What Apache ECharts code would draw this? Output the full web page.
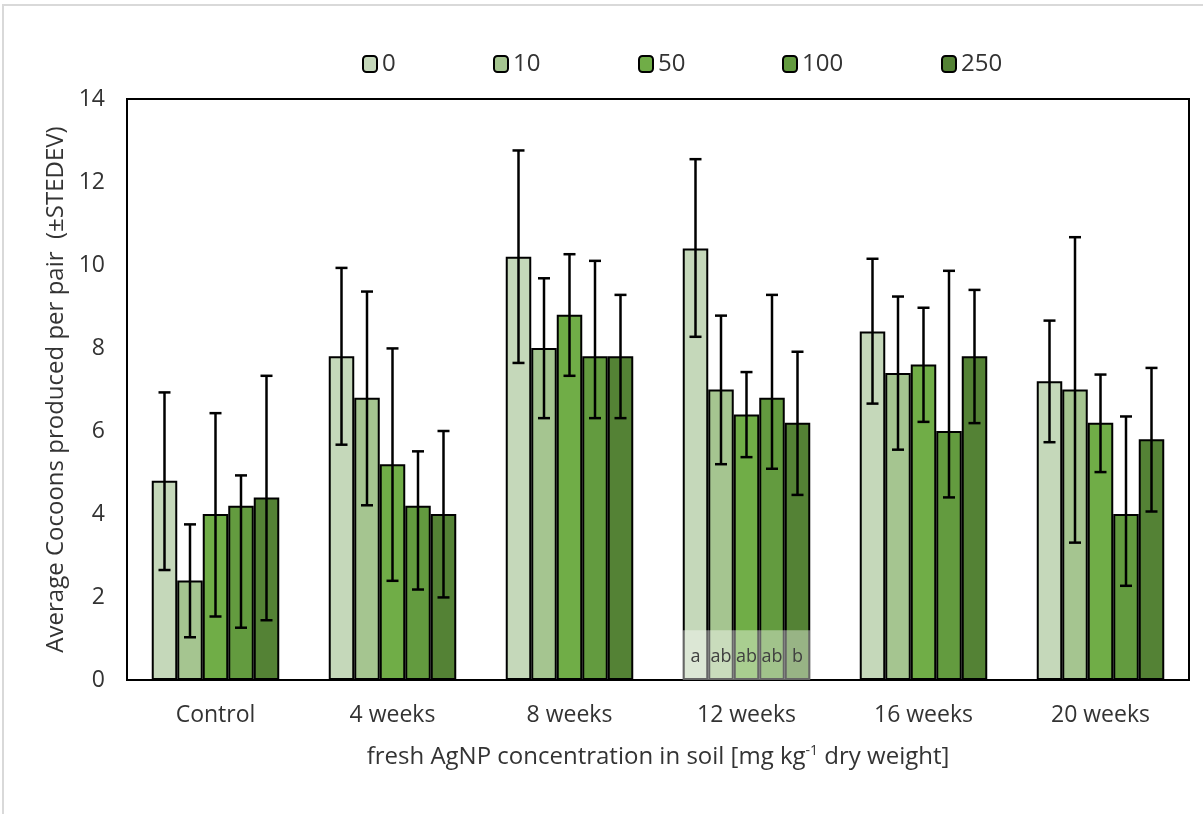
<!DOCTYPE html>
<html>
<head>
<meta charset="utf-8">
<title>Average cocoons produced per pair</title>
<script src="https://cdn.jsdelivr.net/npm/echarts@6/dist/echarts.min.js"></script>
<style>
  html, body { margin: 0; padding: 0; background: #ffffff; }
  #chart { width: 1203px; height: 814px; }
</style>
</head>
<body>
<div id="chart"></div>
<script>
// Sampling times
const categories = ['Control', '4 weeks', '8 weeks', '12 weeks', '16 weeks', '20 weeks'];

// AgNP concentration groups (mg/kg)
const seriesNames = ['0', '10', '50', '100', '250'];

// Mean cocoons per pair, one array per concentration (ordered as categories)
const mean0   = [4.8, 7.8, 10.2, 10.4, 8.4, 7.2];
const mean10  = [2.4, 6.8, 8.0, 7.0, 7.4, 7.0];
const mean50  = [4.0, 5.2, 8.8, 6.4, 7.6, 6.2];
const mean100 = [4.2, 4.2, 7.8, 6.8, 6.0, 4.0];
const mean250 = [4.4, 4.0, 7.8, 6.2, 7.8, 5.8];

// Error bar ends (lower, upper) per concentration
const low0    = [2.65, 5.67, 7.64, 8.27, 6.66, 5.73];
const high0   = [6.93, 9.93, 12.76, 12.55, 10.15, 8.66];
const low10   = [1.03, 4.21, 6.31, 5.20, 5.55, 3.31];
const high10  = [3.75, 9.36, 9.68, 8.78, 9.24, 10.67];
const low50   = [1.53, 2.39, 7.33, 5.37, 6.22, 5.01];
const high50  = [6.43, 7.99, 10.26, 7.42, 8.97, 7.36];
const low100  = [1.26, 2.18, 6.31, 5.09, 4.40, 2.27];
const high100 = [4.93, 5.51, 10.10, 9.28, 9.86, 6.35];
const low250  = [1.44, 1.99, 6.31, 4.46, 6.19, 4.06];
const high250 = [7.33, 6.00, 9.28, 7.91, 9.40, 7.52];

// Significance letters for the 12-week sampling
const letterCategory = '12 weeks';
const letters = ['a', 'ab', 'ab', 'ab', 'b'];

// Y-axis ticks
const yMin = 0, yMax = 14, yStep = 2;

const means = [mean0, mean10, mean50, mean100, mean250];
const lows = [low0, low10, low50, low100, low250];
const highs = [high0, high10, high50, high100, high250];
const colors = ['#c5d8ba', '#a5c590', '#70ad47', '#639b3f', '#548235'];

const FONT = '"Open Sans", "Noto Sans", sans-serif';
const TEXT = '#333333';
const BAR_W = 25.5;
const CAP = 6;

const barSeries = seriesNames.map((name, i) => ({
  name: name,
  type: 'bar',
  barWidth: BAR_W,
  barGap: '0%',
  itemStyle: { color: colors[i], borderColor: '#000000', borderWidth: 2 },
  emphasis: { disabled: true },
  z: 2,
  data: means[i]
}));

const errorSeries = seriesNames.map((name, i) => ({
  name: 'err-' + name,
  type: 'custom',
  z: 4,
  silent: true,
  data: categories.map((c, k) => [k, lows[i][k], highs[i][k]]),
  renderItem: function (params, api) {
    const offset = (i - 2) * BAR_W;
    const lo = api.coord([api.value(0), api.value(1)]);
    const hi = api.coord([api.value(0), api.value(2)]);
    const x = lo[0] + offset;
    const style = { stroke: '#000000', lineWidth: 2.5 };
    return {
      type: 'group',
      children: [
        { type: 'line', shape: { x1: x, y1: lo[1], x2: x, y2: hi[1] }, style: style },
        { type: 'line', shape: { x1: x - CAP, y1: hi[1], x2: x + CAP, y2: hi[1] }, style: style },
        { type: 'line', shape: { x1: x - CAP, y1: lo[1], x2: x + CAP, y2: lo[1] }, style: style }
      ]
    };
  }
}));

// Translucent strip with significance letters across the 12-week bars
const letterSeries = {
  name: 'letters',
  type: 'custom',
  z: 5,
  silent: true,
  data: [[categories.indexOf(letterCategory)]],
  renderItem: function (params, api) {
    const base = api.coord([api.value(0), 0]);
    const top = api.coord([api.value(0), 1.2]);
    const mid = api.coord([api.value(0), 0.55]);
    const left = base[0] - 2.5 * BAR_W;
    const children = [{
      type: 'rect',
      shape: { x: left, y: top[1], width: 5 * BAR_W, height: base[1] - top[1] },
      style: { fill: 'rgba(255,255,255,0.4)' }
    }];
    letters.forEach((t, j) => {
      children.push({
        type: 'text',
        style: {
          text: t, x: left + (j + 0.5) * BAR_W, y: mid[1],
          align: 'center', verticalAlign: 'middle',
          font: '18px ' + FONT, fill: '#404040'
        }
      });
    });
    return { type: 'group', children: children };
  }
};

// One legend block per concentration, laid out across the top
const legendLeft = [357, 488, 633, 777, 936];
const legends = seriesNames.map((name, i) => ({
  data: [name],
  left: legendLeft[i],
  top: 47,
  itemWidth: 14,
  itemHeight: 16,
  itemGap: 0,
  selectedMode: false,
  textStyle: { fontFamily: FONT, fontSize: 24, color: TEXT, padding: [0, 0, 0, 0] }
}));

const chart = echarts.init(document.getElementById('chart'), null, { renderer: 'canvas' });
chart.setOption({
  animation: false,
  backgroundColor: '#ffffff',
  textStyle: { fontFamily: FONT },
  graphic: [{
    type: 'rect',
    shape: { x: 3, y: 5, width: 1400, height: 1000 },
    style: { fill: 'none', stroke: '#d9d9d9', lineWidth: 2 },
    silent: true
  }],
  legend: legends,
  grid: {
    left: 127, right: 14, top: 99, bottom: 134,
    show: true, borderColor: '#000000', borderWidth: 2, backgroundColor: 'transparent'
  },
  xAxis: {
    type: 'category',
    data: categories,
    axisLine: { lineStyle: { color: '#000000', width: 2 } },
    axisTick: { show: false },
    axisLabel: { fontFamily: FONT, fontSize: 23, color: TEXT, margin: 24 },
    name: 'fresh AgNP concentration in soil [mg kg{sup|-1} dry weight]',
    nameLocation: 'middle',
    nameGap: 64,
    nameTextStyle: {
      fontFamily: FONT, fontSize: 24, color: TEXT,
      rich: { sup: { fontFamily: FONT, fontSize: 14, color: TEXT, verticalAlign: 'top', padding: [0, 0, 12, 0] } }
    }
  },
  yAxis: {
    type: 'value',
    min: yMin, max: yMax, interval: yStep,
    axisLine: { show: true, lineStyle: { color: '#000000', width: 2 } },
    axisTick: { show: false },
    splitLine: { show: false },
    axisLabel: { fontFamily: FONT, fontSize: 23, color: TEXT, margin: 22 },
    name: 'Average Cocoons produced per pair  (±STEDEV)',
    nameLocation: 'middle',
    nameGap: 57,
    nameTextStyle: { fontFamily: FONT, fontSize: 24, color: TEXT }
  },
  series: [...barSeries, ...errorSeries, letterSeries]
});
</script>
</body>
</html>
